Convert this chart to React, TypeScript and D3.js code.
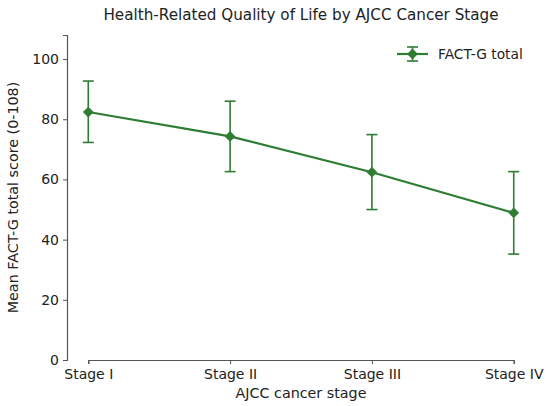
import { useEffect, useRef } from "react";
import * as d3 from "d3";

const stages = ["Stage I", "Stage II", "Stage III", "Stage IV"];
const meanScore = [82.4, 74.3, 62.4, 48.9];
const lowerCI = [72.3, 62.6, 50.0, 35.2];
const upperCI = [92.7, 86.0, 74.9, 62.6];
const yTicks = [0, 20, 40, 60, 80, 100];

const GREEN = "#2e7d32";
const FONT = "DejaVu Sans, sans-serif";

export default function App() {
  const svgRef = useRef<SVGSVGElement>(null);

  useEffect(() => {
    if (!svgRef.current) return;
    const width = 550;
    const height = 406;
    const svg = d3.select(svgRef.current);
    svg.selectAll("*").remove();
    svg.attr("width", width).attr("height", height).style("font-family", FONT);

    const margin = { top: 35, right: 15, bottom: 46, left: 67 };
    const innerW = width - margin.left - margin.right;
    const innerH = height - margin.top - margin.bottom;

    const pad = innerW * (0.05 / 1.1);
    const x = d3
      .scalePoint<string>()
      .domain(stages)
      .range([pad, innerW - pad]);
    const y = d3.scaleLinear().domain([0, 108]).range([innerH, 0]);

    const g = svg
      .append("g")
      .attr("transform", `translate(${margin.left},${margin.top})`);

    // Axes
    const yAxis = g
      .append("g")
      .call(d3.axisLeft(y).tickValues(yTicks).tickSize(4).tickPadding(4));
    const xAxis = g
      .append("g")
      .attr("transform", `translate(0,${innerH})`)
      .call(d3.axisBottom(x).tickSize(4).tickPadding(5));

    [xAxis, yAxis].forEach((ax) => {
      ax.select(".domain").attr("stroke", "#555").attr("stroke-width", 1.2);
      ax.selectAll(".tick line").attr("stroke", "#555").attr("stroke-width", 1);
      ax.selectAll(".tick text")
        .attr("fill", "#222")
        .style("font-size", "14px")
        .style("font-family", FONT);
    });

    // Error bars
    const cap = 5.5;
    stages.forEach((s, i) => {
      const cx = x(s)!;
      const eg = g.append("g").attr("stroke", GREEN).attr("stroke-width", 1.6);
      eg.append("line")
        .attr("x1", cx)
        .attr("x2", cx)
        .attr("y1", y(lowerCI[i]))
        .attr("y2", y(upperCI[i]));
      [lowerCI[i], upperCI[i]].forEach((v) => {
        eg.append("line")
          .attr("x1", cx - cap)
          .attr("x2", cx + cap)
          .attr("y1", y(v))
          .attr("y2", y(v));
      });
    });

    // Line
    const line = d3
      .line<number>()
      .x((_, i) => x(stages[i])!)
      .y((d) => y(d));
    g.append("path")
      .datum(meanScore)
      .attr("fill", "none")
      .attr("stroke", GREEN)
      .attr("stroke-width", 2.2)
      .attr("d", line);

    // Markers (matplotlib "D": square turned 45 degrees)
    const diamond = d3.symbol().type(d3.symbolSquare).size(58);
    g.selectAll(".pt")
      .data(meanScore)
      .join("path")
      .attr("d", diamond)
      .attr("transform", (d, i) => `translate(${x(stages[i])},${y(d)}) rotate(45)`)
      .attr("fill", GREEN);

    // Legend
    const lg = svg.append("g").attr("transform", "translate(397,54)");
    lg.append("line")
      .attr("x1", 0)
      .attr("x2", 31)
      .attr("stroke", GREEN)
      .attr("stroke-width", 2.2);
    const le = lg.append("g").attr("stroke", GREEN).attr("stroke-width", 1.6);
    le.append("line").attr("x1", 15.5).attr("x2", 15.5).attr("y1", -7).attr("y2", 7);
    [-7, 7].forEach((v) =>
      le.append("line").attr("x1", 10).attr("x2", 21).attr("y1", v).attr("y2", v)
    );
    lg.append("path")
      .attr("d", diamond)
      .attr("transform", "translate(15.5,0) rotate(45)")
      .attr("fill", GREEN);
    lg.append("text")
      .attr("x", 41)
      .attr("y", 5)
      .attr("fill", "#222")
      .style("font-size", "13.8px")
      .text("FACT-G total");

    // Title and labels
    svg.append("text")
      .attr("x", margin.left + innerW / 2)
      .attr("y", 20)
      .attr("text-anchor", "middle")
      .attr("fill", "#222")
      .style("font-size", "15.2px")
      .text("Health-Related Quality of Life by AJCC Cancer Stage");

    svg.append("text")
      .attr("x", margin.left + innerW / 2)
      .attr("y", 398)
      .attr("text-anchor", "middle")
      .attr("fill", "#222")
      .style("font-size", "14.3px")
      .text("AJCC cancer stage");

    svg.append("text")
      .attr("transform", `translate(18,${margin.top + innerH / 2}) rotate(-90)`)
      .attr("text-anchor", "middle")
      .attr("fill", "#222")
      .style("font-size", "14.3px")
      .text("Mean FACT-G total score (0-108)");
  }, []);

  return (
    <div style={{ position: "absolute", left: 0, top: 0 }}>
      <svg ref={svgRef} />
    </div>
  );
}
